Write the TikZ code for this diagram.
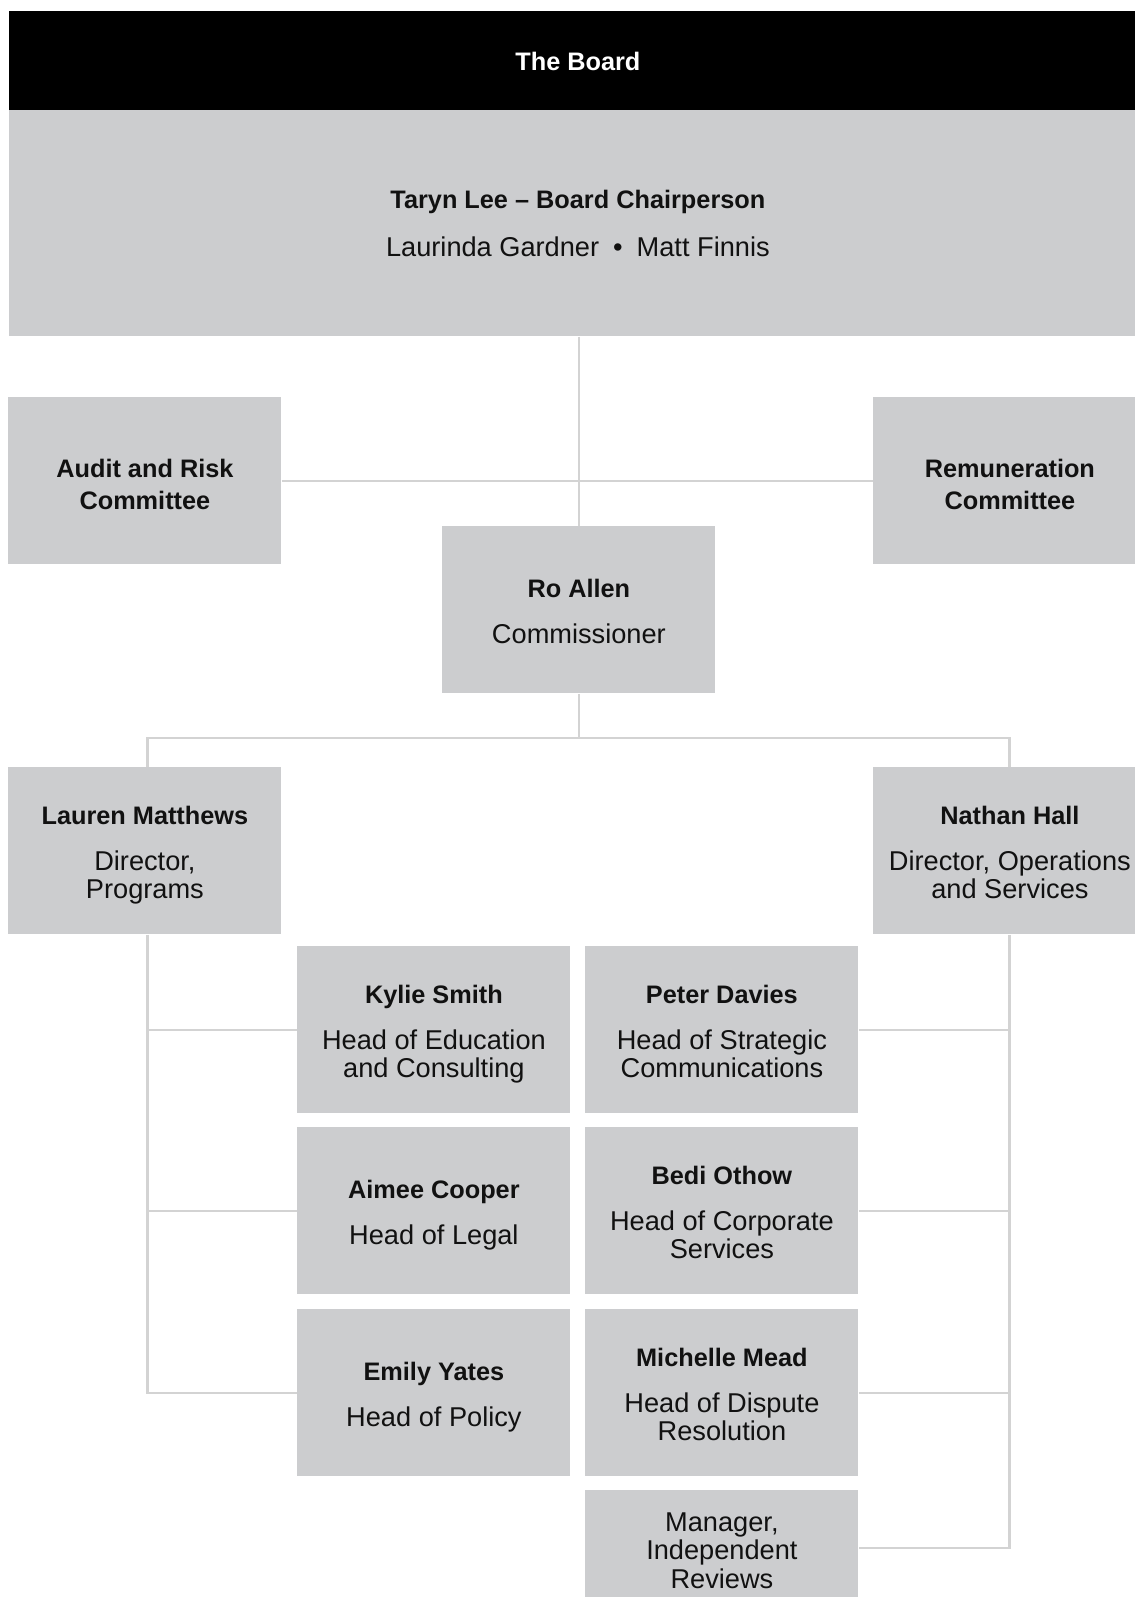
\documentclass[tikz,border=0pt]{standalone}
\usepackage{fontspec}
\setmainfont{Liberation Sans}
\definecolor{boxgray}{HTML}{CCCDCF}
\definecolor{linegray}{HTML}{D3D3D3}
\definecolor{ink}{HTML}{111111}
\newcommand\regf{\fontsize{13.6}{14.25}\selectfont}
\newcommand\nmf{\fontsize{12.65}{14.25}\selectfont\bfseries}
\newcommand\nmtwo{\fontsize{12.65}{16.3}\selectfont\bfseries}
\newcommand\pname[1]{{\nmf\strut #1}\\[8.75pt]}
\tikzset{
  unitbox/.style={fill=boxgray, inner sep=0pt, minimum width=136.5pt, minimum height=83.5pt, anchor=north west},
  txt/.style={align=center, font=\regf, text=ink, inner sep=0pt},
  btxt/.style={align=center, font=\nmtwo, text=ink, inner sep=0pt},
  conn/.style={draw=linegray, line width=1.25pt},
}
\begin{document}
\begin{tikzpicture}[x=0.5pt,y=-0.5pt]
\useasboundingbox (0,0) rectangle (1135,1597);
% header and board
\node[fill=black, inner sep=0pt, minimum width=568.5pt, minimum height=49.5pt, anchor=north west] (header) at (9,11) {};
\node[fill=boxgray, inner sep=0pt, minimum width=568.5pt, minimum height=113pt, anchor=north west] (board) at (9,110) {};
% boxes
\node[unitbox] (audit) at (8,397) {};
\node[unitbox] (remun) at (873,397) {};
\node[unitbox] (roallen) at (442,526) {};
\node[unitbox] (lauren) at (8,767) {};
\node[unitbox] (nathan) at (873,767) {};
\node[unitbox] (kylie) at (297,946) {};
\node[unitbox] (peter) at (585,946) {};
\node[unitbox] (aimee) at (297,1127) {};
\node[unitbox] (bedi) at (585,1127) {};
\node[unitbox] (emily) at (297,1309) {};
\node[unitbox] (michelle) at (585,1309) {};
\node[unitbox, minimum height=57.5pt] (manager) at (585,1490) {};
% spine coordinates
\coordinate (lsp) at (147.5,738);
\coordinate (rsp) at (1009.5,738);
% connectors
\draw[conn] (board.south -| roallen.north) -- (roallen.north);
\draw[conn] (audit.east) -- (remun.west);
\draw[conn] (roallen.south) -- (roallen.south |- lsp);
\draw[conn] (lauren.north -| lsp) -- (lsp) -- (rsp) -- (nathan.north -| rsp);
\draw[conn] (lauren.south -| lsp) -- (lsp |- emily.west) -- (emily.west);
\draw[conn] (lsp |- kylie.west) -- (kylie.west);
\draw[conn] (lsp |- aimee.west) -- (aimee.west);
\draw[conn] (nathan.south -| rsp) -- (rsp |- manager.east) -- (manager.east);
\draw[conn] (peter.east) -- (rsp |- peter.east);
\draw[conn] (bedi.east) -- (rsp |- bedi.east);
\draw[conn] (michelle.east) -- (rsp |- michelle.east);
% texts
\node[txt, font=\nmf, text=white] (header-t) at ([yshift=-1.9pt]header.center) {\strut The Board};
\node[txt] (board-t) at ([yshift=-1.8pt]board.center) {{\nmf\strut Taryn Lee – Board Chairperson}\\[9.75pt]Laurinda Gardner\hspace{7pt}•\hspace{7pt}Matt Finnis\strut};
\node[btxt] (audit-t) at ([yshift=-3.0pt]audit.center) {\strut Audit and Risk\\Committee\strut};
\node[btxt] (remun-t) at ([yshift=-3.0pt]remun.center) {\strut Remuneration\\Committee\strut};
\node[txt] (roallen-t) at ([yshift=-2.65pt]roallen.center) {\pname{Ro Allen}Commissioner\strut};
\node[txt] (lauren-t) at ([yshift=-2.4pt]lauren.center) {\pname{Lauren Matthews}Director,\\Programs\strut};
\node[txt] (nathan-t) at ([yshift=-2.4pt]nathan.center) {\pname{Nathan Hall}Director, Operations\\and Services\strut};
\node[txt] (kylie-t) at ([yshift=-2.4pt]kylie.center) {\pname{Kylie Smith}Head of Education\\and Consulting\strut};
\node[txt] (peter-t) at ([yshift=-2.4pt]peter.center) {\pname{Peter Davies}Head of Strategic\\Communications\strut};
\node[txt] (aimee-t) at ([yshift=-2.65pt]aimee.center) {\pname{Aimee Cooper}Head of Legal\strut};
\node[txt] (bedi-t) at ([yshift=-2.4pt]bedi.center) {\pname{Bedi Othow}Head of Corporate\\Services\strut};
\node[txt] (emily-t) at ([yshift=-2.65pt]emily.center) {\pname{Emily Yates}Head of Policy\strut};
\node[txt] (michelle-t) at ([yshift=-2.4pt]michelle.center) {\pname{Michelle Mead}Head of Dispute\\Resolution\strut};
\node[txt] (manager-t) at ([yshift=-3.0pt]manager.center) {\strut Manager,\\Independent\\Reviews\strut};
\end{tikzpicture}
\end{document}
